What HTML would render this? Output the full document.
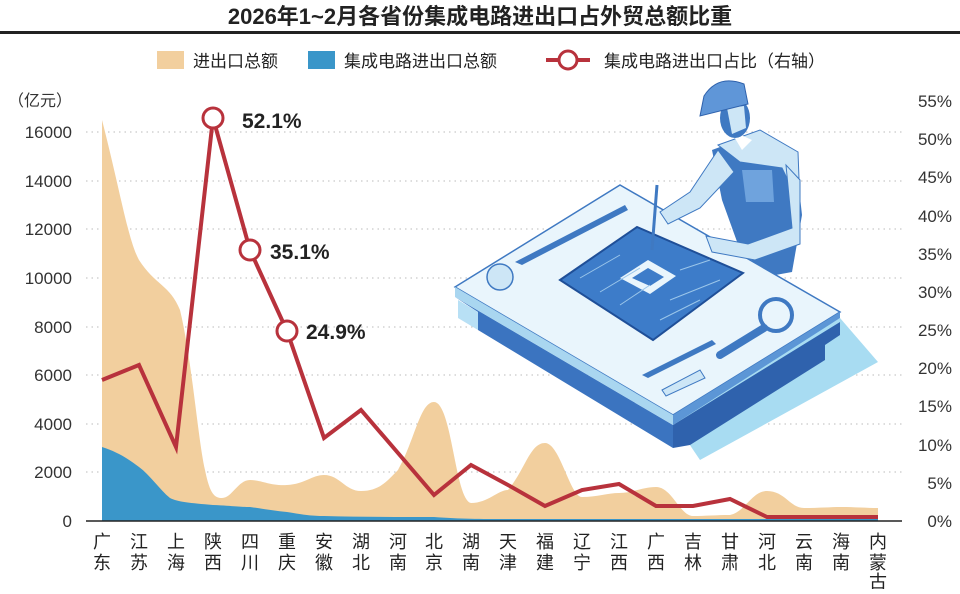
<!DOCTYPE html>
<html><head><meta charset="utf-8"><style>
html,body{margin:0;padding:0;background:#fff;}
body{width:960px;height:589px;overflow:hidden;font-family:"Liberation Sans","Noto Sans CJK SC",sans-serif;}
</style></head><body>
<svg width="960" height="589" viewBox="0 0 960 589" xmlns="http://www.w3.org/2000/svg" font-family="Liberation Sans, Noto Sans CJK SC, sans-serif">
<text x="480" y="24" text-anchor="middle" font-size="22" font-weight="bold" fill="#222">2026年1~2月各省份集成电路进出口占外贸总额比重</text>
<rect x="0" y="31" width="960" height="3" fill="#222"/>
<!-- legend -->
<rect x="157" y="51" width="27" height="18" fill="#f2cf9e"/>
<text x="193" y="67" font-size="17" fill="#222">进出口总额</text>
<rect x="308" y="51" width="27" height="18" fill="#3a96c9"/>
<text x="344" y="67" font-size="17" fill="#222">集成电路进出口总额</text>
<line x1="546" y1="60" x2="590" y2="60" stroke="#b8323c" stroke-width="4"/>
<circle cx="568" cy="60" r="9" fill="#fff" stroke="#b8323c" stroke-width="3"/>
<text x="604" y="67" font-size="17" fill="#222">集成电路进出口占比（右轴）</text>
<text x="8" y="106" font-size="16" fill="#333">（亿元）</text>
<!-- gridlines -->
<g stroke="#bbb" stroke-width="1" stroke-dasharray="1.5 4">
<line x1="86" y1="132" x2="902" y2="132"/><line x1="86" y1="181" x2="902" y2="181"/>
<line x1="86" y1="229" x2="902" y2="229"/><line x1="86" y1="278" x2="902" y2="278"/>
<line x1="86" y1="327" x2="902" y2="327"/><line x1="86" y1="375" x2="902" y2="375"/>
<line x1="86" y1="424" x2="902" y2="424"/><line x1="86" y1="472" x2="902" y2="472"/>
</g>
<g font-size="17" fill="#333" text-anchor="end">
<text x="72" y="138">16000</text><text x="72" y="187">14000</text><text x="72" y="235">12000</text>
<text x="72" y="284">10000</text><text x="72" y="333">8000</text><text x="72" y="381">6000</text>
<text x="72" y="430">4000</text><text x="72" y="478">2000</text><text x="72" y="527">0</text>
</g>
<g font-size="17" fill="#333" text-anchor="end">
<text x="952" y="107">55%</text><text x="952" y="145">50%</text><text x="952" y="183">45%</text>
<text x="952" y="222">40%</text><text x="952" y="260">35%</text><text x="952" y="298">30%</text>
<text x="952" y="336">25%</text><text x="952" y="374">20%</text><text x="952" y="412">15%</text>
<text x="952" y="451">10%</text><text x="952" y="489">5%</text><text x="952" y="527">0%</text>
</g>
<!-- illustration -->
<g>
<polygon points="673,420 840,318 878,362 700,460" fill="#a8dcf2"/>
<polygon points="455,297 673,425 673,448 478,330 478,312" fill="#3b74c0"/>
<polygon points="673,425 840,322 840,335 825,345 825,360 690,445 673,448" fill="#2f62ad"/>
<polygon points="458,300 478,312 478,330 458,318" fill="#b8e0f5"/>
<!-- man body behind table -->
<path d="M712,150 L760,132 L795,152 L802,215 L792,272 L770,276 L740,250 L722,200 Z" fill="#3f79c2"/>
<path d="M718,145 L760,130 L798,152 L800,205 L782,168 L740,162 Z" fill="#cde6f6" stroke="#3f79c2"/>
<path d="M742,170 L772,170 L774,202 L746,202 Z" fill="#6fa3dd"/>
<path d="M730,130 L742,150 L752,140 Z" fill="#fff"/>
<polygon points="455,287 620,185 840,312 673,415" fill="#e9f5fc" stroke="#3f79c2" stroke-width="1.5"/>
<polygon points="455,287 673,415 673,425 455,297" fill="#a9d6f0"/>
<polygon points="673,415 840,312 840,318 673,425" fill="#5c96d6"/>
<polygon points="560,280 637,227 743,273 653,340" fill="#3d7cc9" stroke="#1f4f98" stroke-width="2"/>
<polygon points="620,278 648,260 676,276 650,294" fill="#e9f5fc"/>
<polygon points="632,278 648,268 664,277 650,286" fill="#3d7cc9"/>
<g stroke="#9bc6ea" stroke-width="1" fill="none">
<path d="M580,278 L620,255 M600,292 L640,268 M620,305 L650,285 M680,270 L710,260 M670,300 L720,280 M660,320 L700,300"/>
</g>
<circle cx="500" cy="277" r="13" fill="#cde6f6" stroke="#3f79c2" stroke-width="1.5"/>
<polygon points="515,262 625,205 628,210 522,265" fill="#3f79c2"/>
<polygon points="642,375 712,340 716,344 648,378" fill="#3f79c2"/>
<circle cx="776" cy="315" r="16" fill="#e9f5fc" stroke="#3f79c2" stroke-width="4"/>
<line x1="764" y1="328" x2="720" y2="355" stroke="#3f79c2" stroke-width="8" stroke-linecap="round"/>
<polygon points="662,390 700,370 705,378 666,396" fill="#cde6f6" stroke="#3f79c2"/>
<!-- arms and head -->
<path d="M718,150 L690,192 L660,212 L668,224 L700,208 L734,172 Z" fill="#cde6f6" stroke="#3f79c2"/>
<path d="M786,165 L792,228 L748,244 L706,236 L712,252 L755,260 L800,244 L800,180 Z" fill="#cde6f6" stroke="#3f79c2"/>
<ellipse cx="735" cy="118" rx="15" ry="20" fill="#3f79c2"/>
<path d="M727,108 L744,106 L746,128 L732,134 Z" fill="#cde6f6"/>
<path d="M704,96 Q718,74 744,84 L748,104 L700,116 Z" fill="#5f96d8" stroke="#2f62ad"/>
<line x1="657" y1="185" x2="652" y2="250" stroke="#3f79c2" stroke-width="3"/>
</g>
<!-- areas -->
<path d="M102,521 L102,120 C120,190 128,240 139,260 C155,285 170,285 180,310 C192,360 198,440 205,470 C210,495 215,498 222,498 C232,498 238,480 250,480 C262,480 270,486 287,485 C305,484 312,475 324,475 C340,475 345,491 361,491 C380,491 388,480 398,470 C415,440 420,402 434,402 C452,402 455,500 471,503 C488,503 498,490 508,490 C525,470 530,443 545,443 C560,443 570,497 582,497 C597,497 608,493 619,493 C633,493 642,487 656,487 C672,487 680,516 693,516 C706,516 716,515 730,515 C745,512 752,491 767,491 C785,491 790,508 804,508 C820,508 830,507 841,507 C855,507 866,508 878,508 L878,521 Z" fill="#f2cf9e"/>
<path d="M102,521 L102,447 C118,452 130,460 139,467 C150,475 160,490 170,498 C178,502 190,503 213,505 C235,506 240,507 250,507 C265,509 275,511 287,512 C305,515 312,516 324,516 C360,517 400,517 434,517 C460,519 480,519 508,519 L878,519 L878,521 Z" fill="#3a96c9"/>
<line x1="86" y1="521" x2="902" y2="521" stroke="#222" stroke-width="1.5"/>
<!-- line -->
<polyline points="102,380 139,365 176,447 213,118 250,250 287,331 324,438 361,410 398,453 434,495 471,465 508,485 545,506 582,490 619,484 656,506 693,506 730,499 767,517 804,517 841,517 878,517" fill="none" stroke="#b8323c" stroke-width="4" stroke-linejoin="miter"/>
<g fill="#fff" stroke="#b8323c" stroke-width="3">
<circle cx="213" cy="118" r="10"/><circle cx="250" cy="250" r="10"/><circle cx="287" cy="331" r="10"/>
</g>
<g font-size="21" fill="#222" font-weight="bold">
<text x="242" y="128">52.1%</text><text x="270" y="259">35.1%</text><text x="306" y="339">24.9%</text>
</g>
<!-- x labels -->
<g font-size="18" fill="#222" text-anchor="middle">
<text x="102" y="548">广</text><text x="102" y="569">东</text>
<text x="139" y="548">江</text><text x="139" y="569">苏</text>
<text x="176" y="548">上</text><text x="176" y="569">海</text>
<text x="213" y="548">陕</text><text x="213" y="569">西</text>
<text x="250" y="548">四</text><text x="250" y="569">川</text>
<text x="287" y="548">重</text><text x="287" y="569">庆</text>
<text x="324" y="548">安</text><text x="324" y="569">徽</text>
<text x="361" y="548">湖</text><text x="361" y="569">北</text>
<text x="398" y="548">河</text><text x="398" y="569">南</text>
<text x="434" y="548">北</text><text x="434" y="569">京</text>
<text x="471" y="548">湖</text><text x="471" y="569">南</text>
<text x="508" y="548">天</text><text x="508" y="569">津</text>
<text x="545" y="548">福</text><text x="545" y="569">建</text>
<text x="582" y="548">辽</text><text x="582" y="569">宁</text>
<text x="619" y="548">江</text><text x="619" y="569">西</text>
<text x="656" y="548">广</text><text x="656" y="569">西</text>
<text x="693" y="548">吉</text><text x="693" y="569">林</text>
<text x="730" y="548">甘</text><text x="730" y="569">肃</text>
<text x="767" y="548">河</text><text x="767" y="569">北</text>
<text x="804" y="548">云</text><text x="804" y="569">南</text>
<text x="841" y="548">海</text><text x="841" y="569">南</text>
<text x="878" y="548">内</text><text x="878" y="569">蒙</text><text x="878" y="588">古</text>
</g>
</svg>
</body></html>
